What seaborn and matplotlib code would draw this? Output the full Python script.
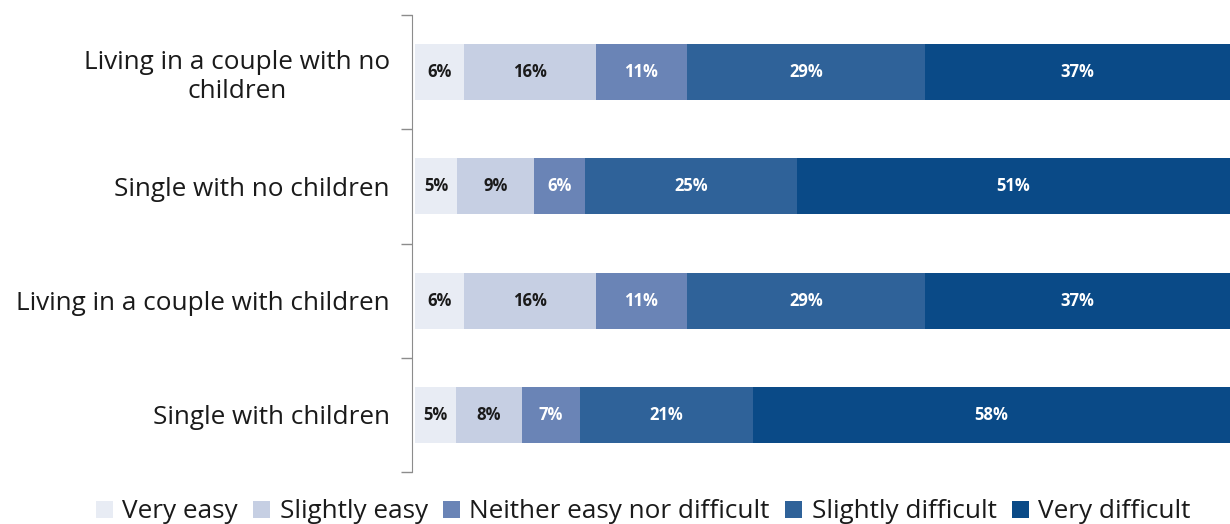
import matplotlib
matplotlib.use("Agg")
import matplotlib.pyplot as plt
from matplotlib.patches import Patch
import seaborn as sns
import numpy as np
import pandas as pd

categories = ["Living in a couple with no\nchildren", "Single with no children",
              "Living in a couple with children", "Single with children"]
series = ["Very easy", "Slightly easy", "Neither easy nor difficult",
          "Slightly difficult", "Very difficult"]
very_easy = [6, 5, 6, 5]
slightly_easy = [16, 9, 16, 8]
neither = [11, 6, 11, 7]
slightly_difficult = [29, 25, 29, 21]
very_difficult = [37, 51, 37, 58]
colors = ["#E8ECF4", "#C6CFE3", "#6A84B6", "#2F6299", "#0A4A87"]
label_colors = ["#1a1a1a", "#1a1a1a", "white", "white", "white"]

values = np.array([very_easy, slightly_easy, neither, slightly_difficult, very_difficult], dtype=float)
shares = values / values.sum(axis=0)
cum = np.cumsum(shares, axis=0)

sns.set_style("white")
plt.rcParams["font.family"] = ["Open Sans", "DejaVu Sans"]

fig = plt.figure(figsize=(12.3, 5.24), dpi=100)
ax = fig.add_axes([415 / 1230, 1 - 472 / 524, 1 - 415 / 1230, (472 - 15) / 524])

for i in reversed(range(len(series))):
    df = pd.DataFrame({"cat": categories, "val": cum[i]})
    sns.barplot(data=df, x="val", y="cat", orient="h", color=colors[i],
                saturation=1, width=0.49, ax=ax, order=categories, linewidth=0)

for i in range(len(series)):
    for j in range(len(categories)):
        start = cum[i][j] - shares[i][j]
        ax.text(start + shares[i][j] / 2, j, f"{int(values[i][j])}%",
                ha="center", va="center", fontsize=12, fontweight="bold",
                color=label_colors[i])

ax.set_xlim(0, 1)
ax.set_ylim(len(categories) - 0.5, -0.5)
ax.set_xlabel("")
ax.set_ylabel("")
ax.set_xticks([])
for s in ["top", "right", "bottom"]:
    ax.spines[s].set_visible(False)
ax.spines["left"].set_color("#8c8c8c")
ax.spines["left"].set_position(("outward", 2))
ax.set_yticks(range(len(categories)))
ax.set_yticklabels(categories, fontsize=18.8, color="#1a1a1a")
for lbl in ax.get_yticklabels():
    lbl.set_multialignment("center")
ax.tick_params(axis="y", which="major", length=0, pad=16, left=False)
ax.set_yticks(np.arange(-0.5, len(categories), 1.0), minor=True)
ax.tick_params(axis="y", which="minor", length=8, width=1, color="#8c8c8c",
               direction="out", left=True)

handles = [Patch(facecolor=c, edgecolor="none") for c in colors]
fig.legend(handles, series, loc="center", bbox_to_anchor=(0.523, 1 - 512 / 524),
           ncol=5, frameon=False, fontsize=18.8, handlelength=0.65, handleheight=0.65,
           handletextpad=0.35, columnspacing=0.6, labelcolor="#1a1a1a")

fig.savefig("out.png", dpi=100, facecolor="white")
